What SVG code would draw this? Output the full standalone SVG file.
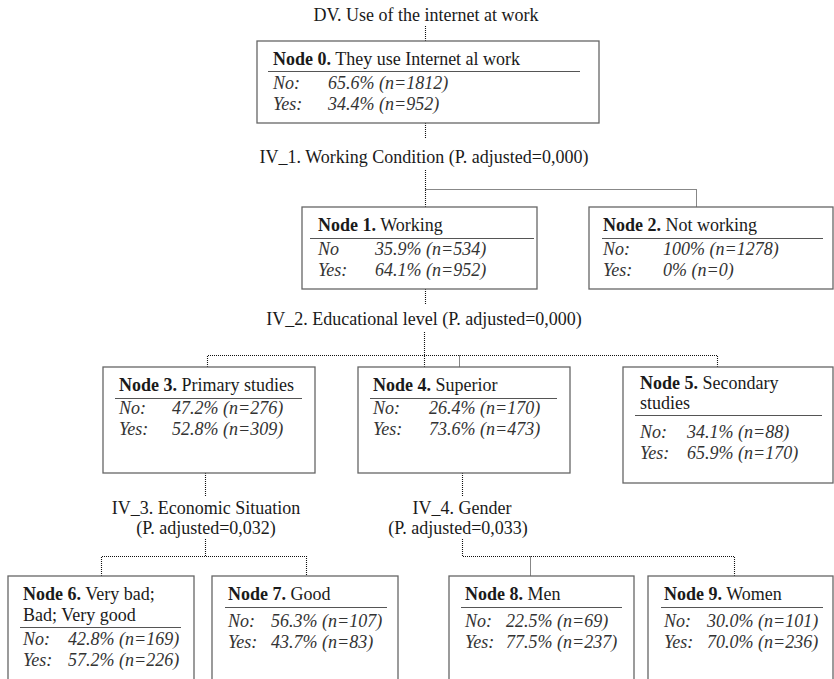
<svg xmlns="http://www.w3.org/2000/svg" width="834" height="679" viewBox="0 0 834 679">
<style>
  text { font-family: "Liberation Serif", "Times New Roman", serif; font-size: 18px; fill: #1a1a1a; }
  .b { font-weight: bold; }
  .i { font-style: italic; fill: #333; }
  .lbl { text-anchor: middle; }
  .box { fill: #fff; stroke: #666; stroke-width: 1.3; }
  .rule { stroke: #555; stroke-width: 1.2; }
  .dot { fill: none; stroke: #111; stroke-width: 1.1; stroke-dasharray: 1 1; }
</style>
<rect width="834" height="679" fill="#fff"/>

<g id="connectors">
  <path class="dot" d="M425.5 26V41"/>
  <path class="dot" d="M425.5 123V138"/>
  <path class="dot" d="M425.5 170V207M425.5 189.5H696.5V207"/>
  <path class="dot" d="M425.5 289V305"/>
  <path class="dot" d="M424.5 332V367M207.5 367V355.5H717.5V367M459.5 355.5V367"/>
  <path class="dot" d="M205.5 473V496"/>
  <path class="dot" d="M205.5 539V556.5M101.5 576V556.5H306.5V576"/>
  <path class="dot" d="M462.5 473V496"/>
  <path class="dot" d="M462.5 539V556.5H734.5V576M530.5 556.5V576"/>
</g>

<g id="labels">
  <text class="lbl" x="426" y="21">DV. Use of the internet at work</text>
  <text class="lbl" x="424" y="163">IV_1. Working Condition (P. adjusted=0,000)</text>
  <text class="lbl" x="424" y="325">IV_2. Educational level (P. adjusted=0,000)</text>
  <text class="lbl" x="206" y="514">IV_3. Economic Situation</text>
  <text class="lbl" x="206" y="534">(P. adjusted=0,032)</text>
  <text class="lbl" x="462" y="514">IV_4. Gender</text>
  <text class="lbl" x="458" y="534">(P. adjusted=0,033)</text>
</g>

<g id="node0">
  <rect class="box" x="257" y="41" width="342" height="82"/>
  <text x="273" y="65"><tspan class="b">Node 0.</tspan> They use Internet al work</text>
  <line class="rule" x1="268" y1="71.5" x2="580" y2="71.5"/>
  <text class="i" x="273" y="89">No:</text><text class="i" x="328" y="89">65.6% (n=1812)</text>
  <text class="i" x="273" y="110">Yes:</text><text class="i" x="328" y="110">34.4% (n=952)</text>
</g>

<g id="node1">
  <rect class="box" x="302" y="207" width="235" height="82"/>
  <text x="318" y="231"><tspan class="b">Node 1.</tspan> Working</text>
  <line class="rule" x1="310" y1="238.5" x2="534" y2="238.5"/>
  <text class="i" x="318" y="255">No</text><text class="i" x="375" y="255">35.9% (n=534)</text>
  <text class="i" x="318" y="276">Yes:</text><text class="i" x="375" y="276">64.1% (n=952)</text>
</g>

<g id="node2">
  <rect class="box" x="589" y="207" width="244" height="82"/>
  <text x="603" y="231"><tspan class="b">Node 2.</tspan> Not working</text>
  <line class="rule" x1="602" y1="238.5" x2="823" y2="238.5"/>
  <text class="i" x="603" y="255">No:</text><text class="i" x="663" y="255">100% (n=1278)</text>
  <text class="i" x="603" y="276">Yes:</text><text class="i" x="663" y="276">0% (n=0)</text>
</g>

<g id="node3">
  <rect class="box" x="103" y="367" width="212" height="106"/>
  <text x="119" y="391"><tspan class="b">Node 3.</tspan> Primary studies</text>
  <line class="rule" x1="115" y1="398.5" x2="302" y2="398.5"/>
  <text class="i" x="119" y="414">No:</text><text class="i" x="172" y="414">47.2% (n=276)</text>
  <text class="i" x="119" y="435">Yes:</text><text class="i" x="172" y="435">52.8% (n=309)</text>
</g>

<g id="node4">
  <rect class="box" x="358" y="367" width="212" height="106"/>
  <text x="373" y="391"><tspan class="b">Node 4.</tspan> Superior</text>
  <line class="rule" x1="370" y1="398.5" x2="557" y2="398.5"/>
  <text class="i" x="373" y="414">No:</text><text class="i" x="429" y="414">26.4% (n=170)</text>
  <text class="i" x="373" y="435">Yes:</text><text class="i" x="429" y="435">73.6% (n=473)</text>
</g>

<g id="node5">
  <rect class="box" x="623" y="367" width="210" height="116"/>
  <text x="640" y="389"><tspan class="b">Node 5.</tspan> Secondary</text>
  <text x="640" y="409">studies</text>
  <line class="rule" x1="635" y1="415.5" x2="822" y2="415.5"/>
  <text class="i" x="640" y="438">No:</text><text class="i" x="687" y="438">34.1% (n=88)</text>
  <text class="i" x="640" y="459">Yes:</text><text class="i" x="687" y="459">65.9% (n=170)</text>
</g>

<g id="node6">
  <rect class="box" x="8" y="576" width="186" height="130"/>
  <text x="23" y="600"><tspan class="b">Node 6.</tspan> Very bad;</text>
  <text x="23" y="621">Bad; Very good</text>
  <line class="rule" x1="20" y1="627.5" x2="181" y2="627.5"/>
  <text class="i" x="23" y="645">No:</text><text class="i" x="68" y="645">42.8% (n=169)</text>
  <text class="i" x="23" y="666">Yes:</text><text class="i" x="68" y="666">57.2% (n=226)</text>
</g>

<g id="node7">
  <rect class="box" x="212" y="576" width="186" height="130"/>
  <text x="228" y="600"><tspan class="b">Node 7.</tspan> Good</text>
  <line class="rule" x1="225" y1="607.5" x2="387" y2="607.5"/>
  <text class="i" x="228" y="627">No:</text><text class="i" x="271" y="627">56.3% (n=107)</text>
  <text class="i" x="228" y="648">Yes:</text><text class="i" x="271" y="648">43.7% (n=83)</text>
</g>

<g id="node8">
  <rect class="box" x="449" y="576" width="185" height="130"/>
  <text x="465" y="600"><tspan class="b">Node 8.</tspan> Men</text>
  <line class="rule" x1="461" y1="607.5" x2="622" y2="607.5"/>
  <text class="i" x="465" y="627">No:</text><text class="i" x="506" y="627">22.5% (n=69)</text>
  <text class="i" x="465" y="648">Yes:</text><text class="i" x="506" y="648">77.5% (n=237)</text>
</g>

<g id="node9">
  <rect class="box" x="648" y="576" width="185" height="130"/>
  <text x="664" y="600"><tspan class="b">Node 9.</tspan> Women</text>
  <line class="rule" x1="661" y1="607.5" x2="823" y2="607.5"/>
  <text class="i" x="664" y="627">No:</text><text class="i" x="707" y="627">30.0% (n=101)</text>
  <text class="i" x="664" y="648">Yes:</text><text class="i" x="707" y="648">70.0% (n=236)</text>
</g>
</svg>
